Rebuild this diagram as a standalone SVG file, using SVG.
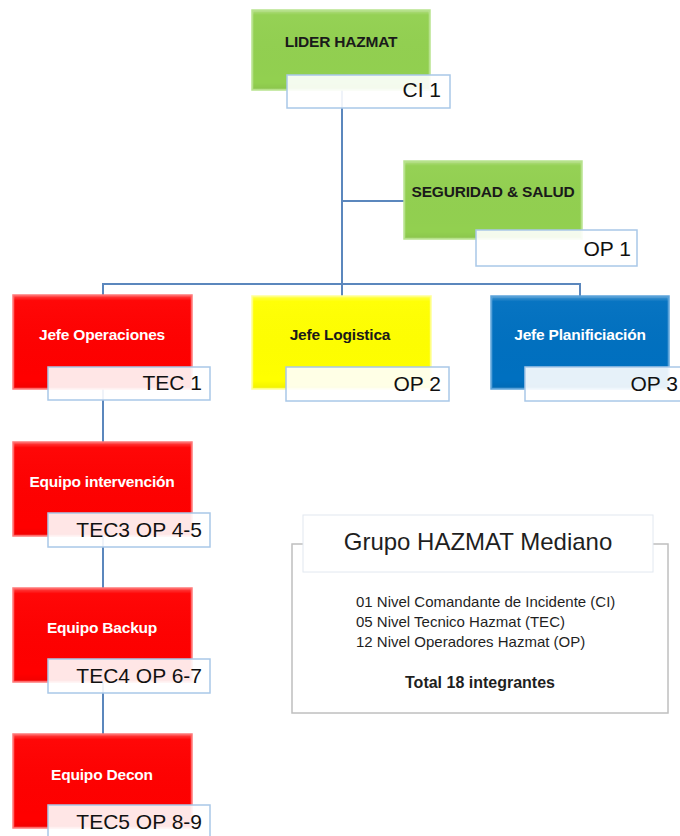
<svg xmlns="http://www.w3.org/2000/svg" width="680" height="836" viewBox="0 0 680 836">
  <defs>
    <linearGradient id="bevel" x1="0" y1="0" x2="0" y2="1">
      <stop offset="0" stop-color="#ffffff" stop-opacity="0.25"/>
      <stop offset="0.05" stop-color="#ffffff" stop-opacity="0.03"/>
      <stop offset="0.92" stop-color="#000000" stop-opacity="0"/>
      <stop offset="1" stop-color="#000000" stop-opacity="0.05"/>
    </linearGradient>
  </defs>
  <style>
    .node { stroke-width: 1.5; }
    .bev { fill: url(#bevel); stroke: #ffffff; stroke-opacity: 0.2; stroke-width: 1; }
    .green { fill: #92D050; stroke: #B8E38F; }
    .red { fill: #FF0000; stroke: #FF7A7A; }
    .yellow { fill: #FFFF00; stroke: #FFFF99; }
    .blue { fill: #0070C0; stroke: #5CA4DC; }
    .lbl { fill: #ffffff; fill-opacity: 0.9; stroke: #A9C8E8; stroke-width: 1.5; }
    .title { font-family: "Liberation Sans", Arial, sans-serif; font-weight: bold; font-size: 15.5px; text-anchor: middle; letter-spacing: -0.2px; }
    .dark { fill: #1A1A1A; }
    .light { fill: #FFFFFF; }
    .lt { font-family: "Liberation Sans", Arial, sans-serif; font-size: 21px; fill: #111111; text-anchor: end; }
    .conn { stroke: #5B87BD; stroke-width: 2; fill: none; }
    .leg { font-family: "Liberation Sans", Arial, sans-serif; fill: #1F1F1F; }
  </style>
  <g id="connectors">
    <line class="conn" x1="342" y1="90" x2="342" y2="296"/>
    <line class="conn" x1="342" y1="201" x2="404" y2="201"/>
    <polyline class="conn" points="103,295 103,284 580,284 580,296"/>
    <line class="conn" x1="103" y1="389" x2="103" y2="442"/>
    <line class="conn" x1="103" y1="536" x2="103" y2="588"/>
    <line class="conn" x1="103" y1="682" x2="103" y2="734"/>
  </g>
  <g id="lider">
    <rect class="node green" x="252" y="10" width="178" height="80"/>
    <rect class="bev" x="253" y="11" width="176" height="78"/>
    <text class="title dark" x="341" y="47">LIDER HAZMAT</text>
    <rect class="lbl" x="287" y="75" width="163" height="33"/>
    <text class="lt" x="441" y="97">CI 1</text>
  </g>
  <g id="seguridad">
    <rect class="node green" x="404" y="161" width="178" height="78"/>
    <rect class="bev" x="405" y="162" width="176" height="76"/>
    <text class="title dark" x="493" y="197">SEGURIDAD &amp; SALUD</text>
    <rect class="lbl" x="476" y="230" width="161" height="36"/>
    <text class="lt" x="631" y="256">OP 1</text>
  </g>
  <g id="jefe-operaciones">
    <rect class="node red" x="13" y="295" width="179" height="94"/>
    <rect class="bev" x="14" y="296" width="177" height="92"/>
    <text class="title light" x="102" y="340">Jefe Operaciones</text>
    <rect class="lbl" x="48" y="367" width="162" height="33"/>
    <text class="lt" x="202" y="390">TEC 1</text>
  </g>
  <g id="jefe-logistica">
    <rect class="node yellow" x="252" y="296" width="179" height="93"/>
    <rect class="bev" x="253" y="297" width="177" height="91"/>
    <text class="title dark" x="340" y="340">Jefe Logistica</text>
    <rect class="lbl" x="286" y="367" width="163" height="34"/>
    <text class="lt" x="441" y="391">OP 2</text>
  </g>
  <g id="jefe-planificiacion">
    <rect class="node blue" x="491" y="296" width="178" height="93"/>
    <rect class="bev" x="492" y="297" width="176" height="91"/>
    <text class="title light" x="580" y="340">Jefe Planificiación</text>
    <rect class="lbl" x="525" y="367" width="163" height="34"/>
    <text class="lt" x="678" y="391">OP 3</text>
  </g>
  <g id="equipo-intervencion">
    <rect class="node red" x="13" y="442" width="179" height="94"/>
    <rect class="bev" x="14" y="443" width="177" height="92"/>
    <text class="title light" x="102" y="487">Equipo intervención</text>
    <rect class="lbl" x="48" y="513" width="162" height="34"/>
    <text class="lt" x="202" y="537">TEC3 OP 4-5</text>
  </g>
  <g id="equipo-backup">
    <rect class="node red" x="13" y="588" width="179" height="94"/>
    <rect class="bev" x="14" y="589" width="177" height="92"/>
    <text class="title light" x="102" y="633">Equipo Backup</text>
    <rect class="lbl" x="48" y="659" width="162" height="34"/>
    <text class="lt" x="202" y="683">TEC4 OP 6-7</text>
  </g>
  <g id="equipo-decon">
    <rect class="node red" x="13" y="734" width="179" height="94"/>
    <rect class="bev" x="14" y="735" width="177" height="92"/>
    <text class="title light" x="102" y="780">Equipo Decon</text>
    <rect class="lbl" x="48" y="805" width="162" height="34"/>
    <text class="lt" x="202" y="829">TEC5 OP 8-9</text>
  </g>
  <g id="legend">
    <rect x="292" y="544" width="376" height="169" fill="#FFFFFF" stroke="#BFBFBF" stroke-width="1.5"/>
    <rect x="303" y="515" width="350" height="57" fill="#FFFFFF" stroke="#E2E8F0" stroke-width="1"/>
    <text class="leg" x="478" y="550" font-size="24" text-anchor="middle">Grupo HAZMAT Mediano</text>
    <text class="leg" x="356" y="607" font-size="15">01 Nivel Comandante de Incidente (CI)</text>
    <text class="leg" x="356" y="627" font-size="15">05 Nivel Tecnico Hazmat (TEC)</text>
    <text class="leg" x="356" y="647" font-size="15">12 Nivel Operadores Hazmat (OP)</text>
    <text class="leg" x="480" y="688" font-size="16" font-weight="bold" text-anchor="middle">Total 18 integrantes</text>
  </g>
</svg>
